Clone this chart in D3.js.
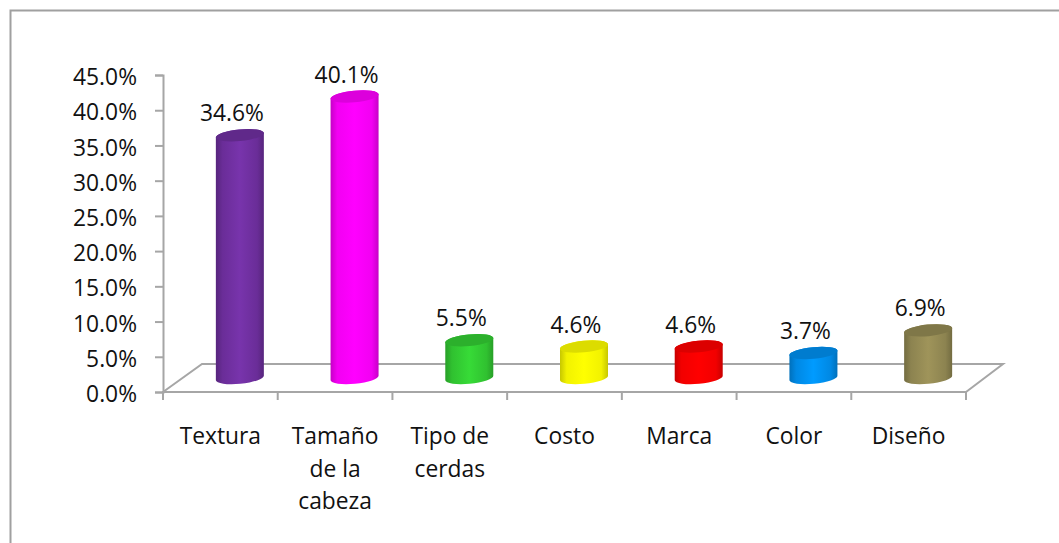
<!DOCTYPE html>
<html><head><meta charset="utf-8">
<script src="https://cdn.jsdelivr.net/npm/d3@7"></script>
<style>html,body{margin:0;padding:0;background:#fff}svg{display:block}text{font-family:"Open Sans","Noto Sans",sans-serif;fill:#111}</style>
</head><body><div id="c"></div>
<script>
const categories=[["Textura"],["Tamaño","de la","cabeza"],["Tipo de","cerdas"],["Costo"],["Marca"],["Color"],["Diseño"]];
const values=[34.6,40.1,5.5,4.6,4.6,3.7,6.9];
const colors=["#7030a0","#ff00ff","#33cc33","#ffff00","#ff0000","#0090f0","#948a54"];
const yTicks=[0,5,10,15,20,25,30,35,40,45];
const W=1059,H=543,fs=22.8,axisGray="#a6a6a6";
const svg=d3.select("#c").append("svg").attr("width",W).attr("height",H);
const defs=svg.append("defs");
svg.append("path").attr("d",`M10.5,${H}V10.5H${W}`).attr("fill","none").attr("stroke","#a0a0a0").attr("stroke-width",2);
const y=d3.scaleLinear().domain([0,45]).range([392,75]);
const x=d3.scaleBand().domain(d3.range(values.length)).range([163,966]);
const depthX=39,depthY=28;
svg.append("path").attr("d",`M163,392L${163+depthX},${392-depthY}H${966+depthX-2}L966,392`)
 .attr("fill","none").attr("stroke",axisGray).attr("stroke-width",2);
const ay=svg.append("g").attr("transform","translate(163,0)").call(d3.axisLeft(y).tickValues(yTicks).tickSize(8).tickPadding(18).tickFormat(d=>d.toFixed(1)+"%"));
ay.selectAll("path,line").attr("stroke",axisGray).attr("stroke-width",2);
ay.selectAll("text").attr("font-size",fs).attr("dy","0.42em").style("font-family",'"Open Sans"').attr("fill","#111");
const xl=svg.append("g");
xl.append("line").attr("x1",162).attr("x2",966).attr("y1",392).attr("y2",392).attr("stroke",axisGray).attr("stroke-width",2);
d3.range(values.length+1).forEach(i=>{const px=x.range()[0]+i*x.step();
 xl.append("line").attr("x1",px).attr("x2",px).attr("y1",392).attr("y2",400).attr("stroke",axisGray).attr("stroke-width",2);});
const rx=24,ry=5.8,dy=2.3,rot=-5.5,baseOff=13;
colors.forEach((c,i)=>{
 const g=defs.append("linearGradient").attr("id","g"+i);
 const col=d3.color(c);
 [[0,col.darker(0.7)],[.14,col.darker(0.15)],[.5,col.brighter(0.2)],[.86,col.darker(0.15)],[1,col.darker(0.7)]]
  .forEach(([o,k])=>g.append("stop").attr("offset",o).attr("stop-color",k));
});
const bars=svg.selectAll("g.bar").data(values).join("g").attr("class","bar");
bars.each(function(v,i){
 const s=d3.select(this),cx=x(i)+x.bandwidth()/2+19.5,yb=392-baseOff-1,yt=y(v)-baseOff;
 const a=`A${rx},${ry} ${rot} 0 0`;
 s.append("path").attr("d",`M${cx-rx},${yt+dy}L${cx-rx},${yb+dy}${a} ${cx+rx},${yb-dy}L${cx+rx},${yt-dy}${a} ${cx-rx},${yt+dy}Z`)
  .attr("fill",`url(#g${i})`);
 s.append("ellipse").attr("cx",cx).attr("cy",yt).attr("rx",rx+.2).attr("ry",ry)
  .attr("transform",`rotate(${rot} ${cx} ${yt})`).attr("fill",d3.color(colors[i]).darker(0.42));
 s.append("text").attr("x",cx-8).attr("y",yt-14).attr("text-anchor","middle").attr("font-size",fs).text(v.toFixed(1)+"%");
});
categories.forEach((ls,i)=>{
 const t=svg.append("text").attr("text-anchor","middle").attr("font-size",fs);
 ls.forEach((l,j)=>t.append("tspan").attr("x",x(i)+x.bandwidth()/2).attr("y",444+j*32.5).text(l));
});
</script></body></html>
